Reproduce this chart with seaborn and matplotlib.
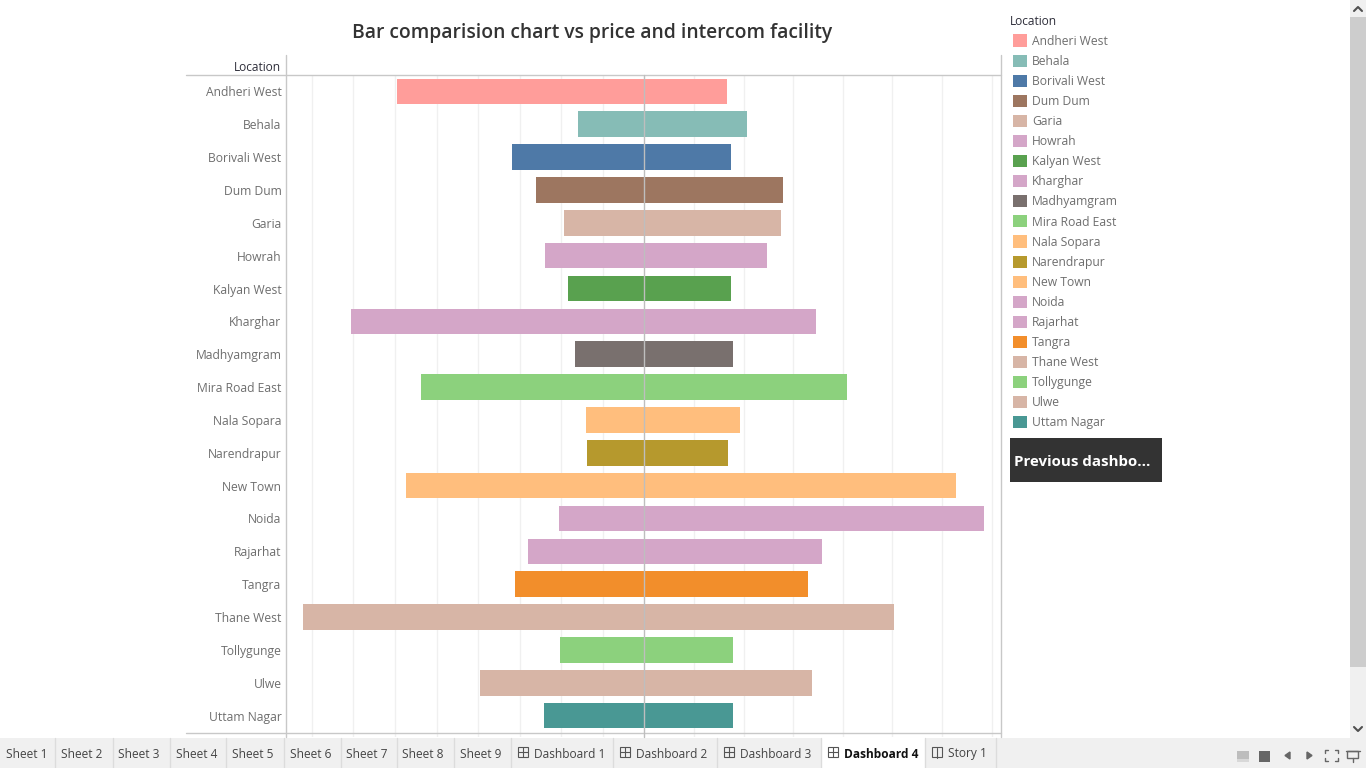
import numpy as np
import pandas as pd
import seaborn as sns
import matplotlib.pyplot as plt
from matplotlib.patches import Rectangle, Patch

locations = ['Andheri West', 'Behala', 'Borivali West', 'Dum Dum', 'Garia', 'Howrah',
             'Kalyan West', 'Kharghar', 'Madhyamgram', 'Mira Road East', 'Nala Sopara',
             'Narendrapur', 'New Town', 'Noida', 'Rajarhat', 'Tangra', 'Thane West',
             'Tollygunge', 'Ulwe', 'Uttam Nagar']
price = [5.95, 1.60, 3.19, 2.61, 1.94, 2.39, 1.84, 7.06, 1.67, 5.37,
         1.41, 1.38, 5.73, 2.06, 2.80, 3.11, 8.21, 2.03, 3.95, 2.42]
intercom = [1.66, 2.07, 1.74, 2.79, 2.75, 2.47, 1.74, 3.46, 1.78, 4.08,
            1.93, 1.68, 6.28, 6.84, 3.58, 3.30, 5.03, 1.78, 3.38, 1.78]
colors = ['#FF9D9A', '#86BCB6', '#4E79A7', '#9D7660', '#D7B5A6', '#D4A6C8',
          '#59A14F', '#D4A6C8', '#79706E', '#8CD17D', '#FFBE7D', '#B6992D',
          '#FFBE7D', '#D4A6C8', '#D4A6C8', '#F28E2B', '#D7B5A6', '#8CD17D',
          '#D7B5A6', '#499894']
tab_names = ['Sheet 1', 'Sheet 2', 'Sheet 3', 'Sheet 4', 'Sheet 5', 'Sheet 6', 'Sheet 7',
             'Sheet 8', 'Sheet 9', 'Dashboard 1', 'Dashboard 2', 'Dashboard 3',
             'Dashboard 4', 'Story 1']
tab_edges = [0, 55, 112.5, 169.5, 226, 283.5, 340.5, 396.5, 453.5, 510.5, 612.5, 717, 820.5, 924.5, 995.5]

W, H = 1366, 768
LINE = '#C8C8C8'
GRID = '#F0F0F0'
TXT = '#6E6E6E'

sns.set_theme(style='white')
plt.rcParams['font.family'] = ['Open Sans', 'DejaVu Sans']

df = pd.DataFrame({'Location': locations, 'price': price, 'intercom': intercom})
palette = dict(zip(locations, colors))


def axes_px(x0, y0, x1, y1):
    return [x0 / W, 1 - y1 / H, (x1 - x0) / W, (y1 - y0) / H]


fig = plt.figure(figsize=(W / 100, H / 100), dpi=100, facecolor='white')
ax_l = fig.add_axes(axes_px(286, 75, 644.5, 736.5))
ax_r = fig.add_axes(axes_px(644.5, 75, 1001, 736.5))

sns.barplot(data=df, y='Location', x='price', hue='Location', palette=palette, dodge=False,
            legend=False, saturation=1, width=0.78, linewidth=0, ax=ax_l)
sns.barplot(data=df, y='Location', x='intercom', hue='Location', palette=palette, dodge=False,
            legend=False, saturation=1, width=0.78, linewidth=0, ax=ax_r)

ax_l.set_xlim(8.618, 0)
ax_r.set_xlim(0, 7.188)
ax_l.set_xticks(np.arange(1, 9))
ax_r.set_xticks(np.arange(1, 8))
for ax in (ax_l, ax_r):
    ax.set_ylim(19.5 + 4.5 / 32.85, -0.5)
    ax.set_xlabel('')
    ax.set_ylabel('')
    ax.set_xticklabels([])
    ax.set_axisbelow(True)
    ax.grid(axis='x', color=GRID, lw=1)
    ax.grid(axis='y', visible=False)
    ax.patch.set_alpha(0)
    for s in ax.spines.values():
        s.set_visible(False)
ax_l.tick_params(axis='both', length=0)
ax_l.tick_params(axis='y', pad=3.3, labelsize=8.7, labelcolor=TXT)
ax_r.tick_params(axis='both', length=0, labelleft=False)

# overlay in pixel coordinates for the dashboard parts
ov = fig.add_axes([0, 0, 1, 1], zorder=5)
ov.set_xlim(0, W)
ov.set_ylim(H, 0)
ov.axis('off')
ov.patch.set_alpha(0)

ov.plot([285.5, 285.5], [55, 737], color=LINE, lw=1)
ov.plot([1001, 1001], [55, 737], color=LINE, lw=1)
ov.plot([186, 1001], [75, 75], color=LINE, lw=1)
ov.plot([186, 1001], [732.5, 732.5], color=LINE, lw=1)
ov.plot([644, 644], [75, 737], color='#BEBEBE', lw=1)

ov.text(592, 33, 'Bar comparision chart vs price and intercom facility', ha='center', va='center',
        fontsize=13.9, color='#333333', fontweight='semibold')
ov.text(281, 67.5, 'Location', ha='right', va='center', fontsize=8.6, color='#2E2E3A', fontweight='medium')
ov.text(1010, 21.5, 'Location', ha='left', va='center', fontsize=8.6, color='#2E2E3A', fontweight='medium')

# legend
handles = [Patch(facecolor=c, edgecolor='none', label=n) for n, c in zip(locations, colors)]
leg = fig.legend(handles=handles, loc='upper left', bbox_to_anchor=(1013 / W, 1 - 34.5 / H),
                 frameon=False, fontsize=8.7, labelcolor=TXT, borderpad=0, borderaxespad=0,
                 handlelength=1.16, handleheight=1.16, labelspacing=0.577, handletextpad=0.42)

# button
ov.add_patch(Rectangle((1010, 438), 152, 44, facecolor='#333333', edgecolor='none'))
ov.text(1013.5, 461.5, 'Previous dashbo...', ha='left', va='center', fontsize=10.8, color='white', fontweight='bold')

# scroll bar
ov.add_patch(Rectangle((1350, 0), 16, 738, facecolor='#F0F0F0', edgecolor='none'))
ov.add_patch(Rectangle((1350, 17), 16, 650, facecolor='#CDCDCD', edgecolor='none'))
ov.plot([1354, 1358, 1362], [11, 7, 11], color='#505050', lw=1.5)
ov.plot([1354, 1358, 1362], [727, 731, 727], color='#505050', lw=1.5)

# tab strip
ov.add_patch(Rectangle((0, 738), W, 30, facecolor='#F0F0F0', edgecolor='none'))
for i, name in enumerate(tab_names):
    x0, x1 = tab_edges[i], tab_edges[i + 1]
    active = name == 'Dashboard 4'
    if active:
        ov.add_patch(Rectangle((x0, 738), x1 - x0, 30, facecolor='white', edgecolor='none'))
    ov.plot([x1, x1], [738, 768], color='#DCDCDC', lw=1)
    has_icon = name.startswith('Dashboard') or name.startswith('Story')
    if has_icon:
        ix = x0 + 7
        ov.add_patch(Rectangle((ix, 747), 10, 10, facecolor='none', edgecolor='#555555', lw=0.8))
        if name.startswith('Dashboard'):
            ov.plot([ix + 5, ix + 5], [747, 757], color='#555555', lw=0.8)
            ov.plot([ix, ix + 10], [752, 752], color='#555555', lw=0.8)
        else:
            ov.plot([ix + 5, ix + 5], [748, 758], color='#555555', lw=0.8)
    ov.text(x0 + (23 if has_icon else 6), 754, name, ha='left', va='center', fontsize=8.6,
            color='#111111' if active else '#444444', fontweight='bold' if active else 'normal')

# view controls
ov.add_patch(Rectangle((1237, 751), 12, 8, facecolor='#BDBDBD', edgecolor='none'))
ov.add_patch(Rectangle((1237, 759), 12, 2.5, facecolor='#D8D8D8', edgecolor='none'))
ov.add_patch(Rectangle((1259, 751), 11, 11, facecolor='#666666', edgecolor='none'))
ov.fill([1290, 1285, 1290], [752, 755.5, 759], color='#666666')
ov.fill([1307, 1312, 1307], [752, 755.5, 759], color='#666666')
# fullscreen corners
for cx, dx in ((1325, 1), (1338, -1)):
    for cy, dy in ((750, 1), (761, -1)):
        ov.plot([cx + 3 * dx, cx, cx], [cy, cy, cy + 3 * dy], color='#666666', lw=1)
ov.add_patch(Rectangle((1347, 751), 11, 7, facecolor='none', edgecolor='#666666', lw=1))
ov.plot([1346, 1360], [750.5, 750.5], color='#666666', lw=1)
ov.plot([1352.5, 1352.5], [758, 762], color='#666666', lw=1)

fig.savefig('out.png', dpi=100)
